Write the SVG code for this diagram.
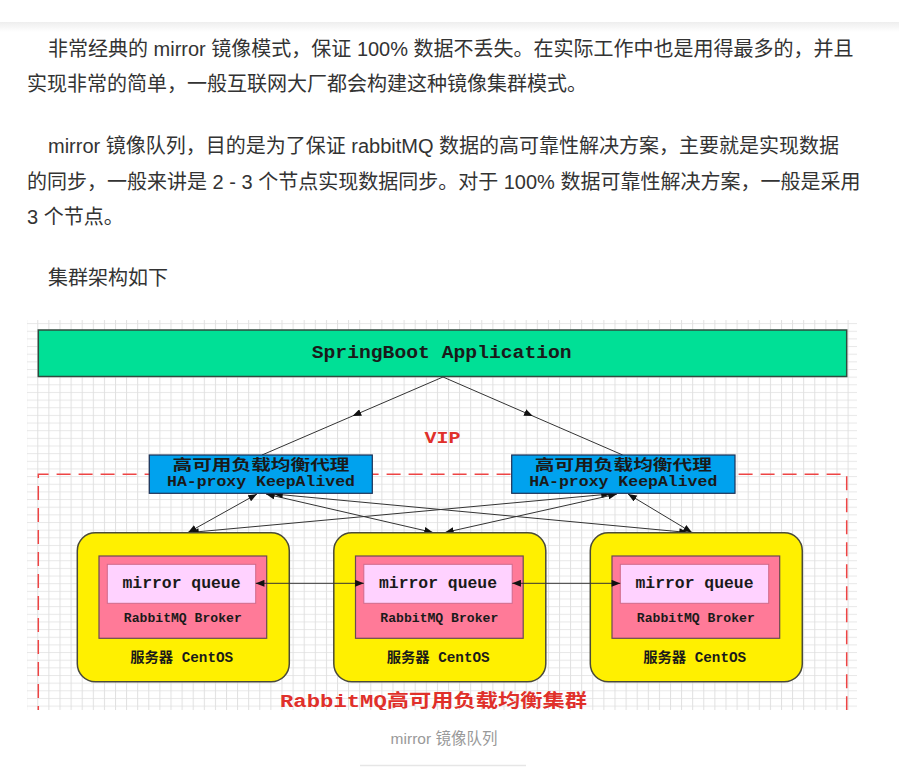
<svg xmlns="http://www.w3.org/2000/svg" width="899" height="773" viewBox="0 0 899 773">
<style>
.p{font-family:"Liberation Sans","Noto Sans CJK SC",sans-serif;font-size:20px;fill:#333}
.m{font-family:"Liberation Mono","Noto Sans CJK SC",monospace;font-weight:bold;fill:#1a1a1a}
.red{fill:#e0302a}
.ln{stroke:#333;stroke-width:1;fill:none}
</style>
<defs>
<linearGradient id="sh" x1="0" y1="0" x2="0" y2="1">
<stop offset="0" stop-color="#eeeeee"/>
<stop offset="1" stop-color="#ffffff"/>
</linearGradient>
<pattern id="grid" x="26.2" y="323.1" width="11.1" height="7.65" patternUnits="userSpaceOnUse">
<path d="M0 0.5H11.1" stroke="#e8e8e8" stroke-width="1" fill="none"/>
<path d="M0.5 0V7.65" stroke="#e0e0e0" stroke-width="1" fill="none"/>
</pattern>
<clipPath id="img"><rect x="27" y="320" width="830" height="390"/></clipPath>
<marker id="ah" viewBox="0 0 10 8" refX="10" refY="4" markerWidth="9" markerHeight="7" markerUnits="userSpaceOnUse" orient="auto-start-reverse">
<path d="M0 0L10 4L0 8z" fill="#111"/>
</marker>
</defs>
<rect width="899" height="773" fill="#fff"/>
<rect x="0" y="22" width="899" height="10" fill="url(#sh)"/>

<g id="text">
<text class="p" x="48" y="55.5">非常经典的 mirror 镜像模式，保证 100% 数据不丢失。在实际工作中也是用得最多的，并且</text>
<text class="p" x="27" y="91">实现非常的简单，一般互联网大厂都会构建这种镜像集群模式。</text>
<text class="p" x="48" y="153">mirror 镜像队列，目的是为了保证 rabbitMQ 数据的高可靠性解决方案，主要就是实现数据</text>
<text class="p" x="27" y="189">的同步，一般来讲是 2 - 3 个节点实现数据同步。对于 100% 数据可靠性解决方案，一般是采用</text>
<text class="p" x="27" y="224">3 个节点。</text>
<text class="p" x="48" y="285">集群架构如下</text>
</g>

<g clip-path="url(#img)">
<rect x="27" y="320" width="830" height="390" fill="#fff"/>
<rect x="27" y="320" width="830" height="390" fill="url(#grid)"/>

<path id="cluster-border" d="M38.3 720V474.3H846.7V720" fill="none" stroke="#ee4444" stroke-width="1.5" stroke-dasharray="14 8"/>

<g id="app">
<rect x="38.3" y="330" width="808.4" height="46.5" fill="#00e096" stroke="#2f4a3e" stroke-width="1.5"/>
<text class="m" x="441.7" y="357.7" font-size="18" text-anchor="middle" textLength="260" lengthAdjust="spacingAndGlyphs">SpringBoot Application</text>
</g>

<text id="vip" class="m red" x="442.5" y="443.3" font-size="16" text-anchor="middle" textLength="36" lengthAdjust="spacingAndGlyphs">VIP</text>

<g id="connectors">
<path class="ln" d="M443 377L352.5 416L262 455" marker-mid="url(#ah)"/>
<path class="ln" d="M443 377L532.8 416L622.7 455" marker-mid="url(#ah)"/>
<path class="ln" d="M257 494L188 532.5" marker-start="url(#ah)" marker-end="url(#ah)"/>
<path class="ln" d="M266 494L433 532.5" marker-start="url(#ah)" marker-end="url(#ah)"/>
<path class="ln" d="M274 494L688 532.5" marker-start="url(#ah)" marker-end="url(#ah)"/>
<path class="ln" d="M610 494L190 532.5" marker-start="url(#ah)" marker-end="url(#ah)"/>
<path class="ln" d="M617 494L445 532.5" marker-start="url(#ah)" marker-end="url(#ah)"/>
<path class="ln" d="M628 494L692 532.5" marker-start="url(#ah)" marker-end="url(#ah)"/>
</g>

<g id="proxy1">
<rect x="149.3" y="455" width="223" height="38.3" fill="#00a2ee" stroke="#1b2f55" stroke-width="1.2"/>
<text class="m" x="261" y="470" font-size="14.5" text-anchor="middle" textLength="177" lengthAdjust="spacingAndGlyphs">高可用负载均衡代理</text>
<text class="m" x="261" y="486" font-size="14" text-anchor="middle" textLength="188" lengthAdjust="spacingAndGlyphs">HA-proxy KeepAlived</text>
</g>
<g id="proxy2">
<rect x="511.7" y="455" width="223.3" height="38.3" fill="#00a2ee" stroke="#1b2f55" stroke-width="1.2"/>
<text class="m" x="623.3" y="470" font-size="14.5" text-anchor="middle" textLength="177" lengthAdjust="spacingAndGlyphs">高可用负载均衡代理</text>
<text class="m" x="623.3" y="486" font-size="14" text-anchor="middle" textLength="188" lengthAdjust="spacingAndGlyphs">HA-proxy KeepAlived</text>
</g>

<g id="server1">
<rect x="77.3" y="532.7" width="212" height="149" rx="18" fill="#fff000" stroke="#4a4a3a" stroke-width="1.5"/>
<rect x="99" y="556" width="167.7" height="82.3" fill="#ff7a98" stroke="#6b4a52" stroke-width="1.2"/>
<rect x="107.3" y="564.3" width="148.4" height="39" fill="#ffd2ff" stroke="#d06a8a" stroke-width="1"/>
<text class="m" x="181.5" y="587.5" font-size="16" text-anchor="middle" textLength="118" lengthAdjust="spacingAndGlyphs">mirror queue</text>
<text class="m" x="182.8" y="621.7" font-size="12.5" text-anchor="middle" textLength="118" lengthAdjust="spacingAndGlyphs">RabbitMQ Broker</text>
<text class="m" x="181.7" y="661.7" font-size="14" text-anchor="middle" textLength="103" lengthAdjust="spacingAndGlyphs">服务器 CentOS</text>
</g>
<g id="server2" transform="translate(256.5 0)">
<rect x="77.3" y="532.7" width="212" height="149" rx="18" fill="#fff000" stroke="#4a4a3a" stroke-width="1.5"/>
<rect x="99" y="556" width="167.7" height="82.3" fill="#ff7a98" stroke="#6b4a52" stroke-width="1.2"/>
<rect x="107.3" y="564.3" width="148.4" height="39" fill="#ffd2ff" stroke="#d06a8a" stroke-width="1"/>
<text class="m" x="181.5" y="587.5" font-size="16" text-anchor="middle" textLength="118" lengthAdjust="spacingAndGlyphs">mirror queue</text>
<text class="m" x="182.8" y="621.7" font-size="12.5" text-anchor="middle" textLength="118" lengthAdjust="spacingAndGlyphs">RabbitMQ Broker</text>
<text class="m" x="181.7" y="661.7" font-size="14" text-anchor="middle" textLength="103" lengthAdjust="spacingAndGlyphs">服务器 CentOS</text>
</g>
<g id="server3" transform="translate(513 0)">
<rect x="77.3" y="532.7" width="212" height="149" rx="18" fill="#fff000" stroke="#4a4a3a" stroke-width="1.5"/>
<rect x="99" y="556" width="167.7" height="82.3" fill="#ff7a98" stroke="#6b4a52" stroke-width="1.2"/>
<rect x="107.3" y="564.3" width="148.4" height="39" fill="#ffd2ff" stroke="#d06a8a" stroke-width="1"/>
<text class="m" x="181.5" y="587.5" font-size="16" text-anchor="middle" textLength="118" lengthAdjust="spacingAndGlyphs">mirror queue</text>
<text class="m" x="182.8" y="621.7" font-size="12.5" text-anchor="middle" textLength="118" lengthAdjust="spacingAndGlyphs">RabbitMQ Broker</text>
<text class="m" x="181.7" y="661.7" font-size="14" text-anchor="middle" textLength="103" lengthAdjust="spacingAndGlyphs">服务器 CentOS</text>
</g>

<g id="sync-connectors">
<path class="ln" stroke-width="1.3" d="M255.7 583.3H363.8" marker-start="url(#ah)" marker-end="url(#ah)"/>
<path class="ln" stroke-width="1.3" d="M512.2 583.3H620.3" marker-start="url(#ah)" marker-end="url(#ah)"/>
</g>

<text id="cluster-label" class="m red" x="433.5" y="706.5" font-size="18" text-anchor="middle" textLength="307" lengthAdjust="spacingAndGlyphs">RabbitMQ高可用负载均衡集群</text>
</g>

<g id="caption">
<text x="444" y="743.5" font-family="Liberation Sans,'Noto Sans CJK SC',sans-serif" font-size="15.5" fill="#999" text-anchor="middle">mirror 镜像队列</text>
<line x1="360" y1="765.5" x2="526" y2="765.5" stroke="#e6e6e6" stroke-width="1.5"/>
</g>
</svg>
